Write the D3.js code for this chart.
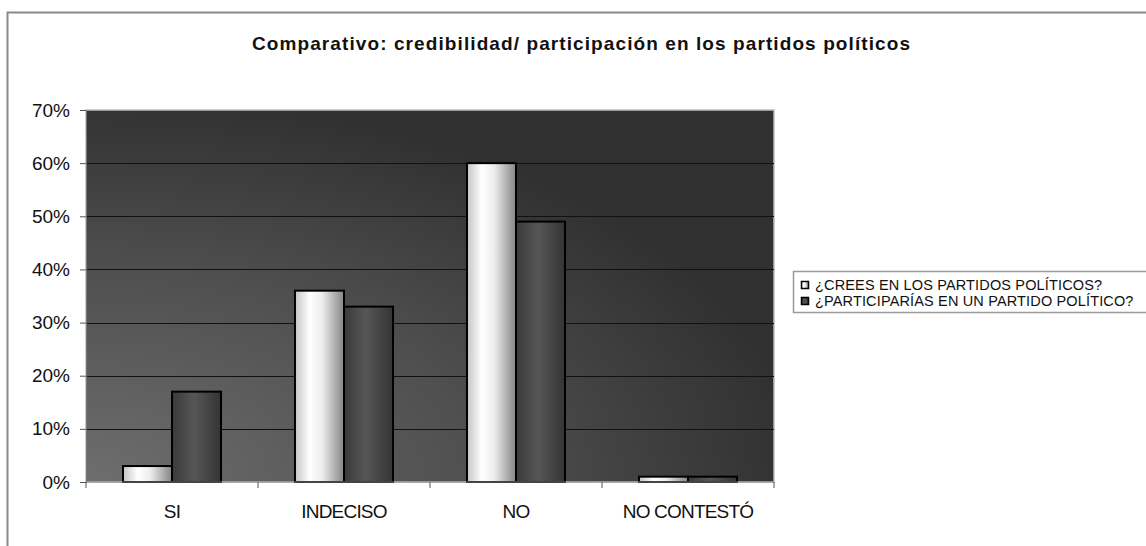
<!DOCTYPE html>
<html>
<head>
<meta charset="utf-8">
<script src="https://cdn.jsdelivr.net/npm/d3@7"></script>
<style>
  html, body { margin: 0; padding: 0; background: #fff; }
  svg { display: block; font-family: "Liberation Sans", Arial, sans-serif; }
</style>
</head>
<body>
<svg id="chart" width="1146" height="546"></svg>
<script>
// Survey answers by category
const categories = ["SI", "INDECISO", "NO", "NO CONTESTÓ"];
const seriesNames = ["¿CREES EN LOS PARTIDOS POLÍTICOS?", "¿PARTICIPARÍAS EN UN PARTIDO POLÍTICO?"];
const creesValues = [0.03, 0.36, 0.60, 0.01];
const participariasValues = [0.17, 0.33, 0.49, 0.01];
const yTicks = [0, 0.1, 0.2, 0.3, 0.4, 0.5, 0.6, 0.7];
const titleText = "Comparativo: credibilidad/ participación en los partidos políticos";

const svg = d3.select("#chart");
const W = 1146, H = 546;
const plot = { left: 86, right: 774, top: 110, bottom: 482 };

const defs = svg.append("defs");

// Plot background: light at lower left, darker toward the top and right
const bg = defs.append("radialGradient").attr("id", "bgGrad")
  .attr("cx", 0).attr("cy", 1).attr("r", 1.05).attr("fx", 0).attr("fy", 1);
bg.append("stop").attr("offset", 0).attr("stop-color", "#6e6e6e");
bg.append("stop").attr("offset", 0.55).attr("stop-color", "#4f4f4f");
bg.append("stop").attr("offset", 1).attr("stop-color", "#303030");

// Cylinder-like shading for each series
const g1 = defs.append("linearGradient").attr("id", "barLight").attr("x1", 0).attr("x2", 1).attr("y1", 0).attr("y2", 0);
[[0, "#c4c4c4"], [0.3, "#ffffff"], [0.55, "#ededed"], [1, "#858585"]].forEach(([o, c]) =>
  g1.append("stop").attr("offset", o).attr("stop-color", c));
const g2 = defs.append("linearGradient").attr("id", "barDark").attr("x1", 0).attr("x2", 1).attr("y1", 0).attr("y2", 0);
[[0, "#3a3a3a"], [0.45, "#565656"], [1, "#343434"]].forEach(([o, c]) =>
  g2.append("stop").attr("offset", o).attr("stop-color", c));
const fills = ["url(#barLight)", "url(#barDark)"];

// Outer frame
svg.append("path")
  .attr("d", `M7.5,${H} L7.5,12.5 L${W},12.5`)
  .attr("fill", "none").attr("stroke", "#8a8a8a").attr("stroke-width", 2);

// Title
svg.append("text")
  .attr("x", 581).attr("y", 50)
  .attr("text-anchor", "middle")
  .attr("font-weight", "bold").attr("font-size", 19)
  .attr("textLength", 658).attr("lengthAdjust", "spacing")
  .attr("fill", "#111")
  .text(titleText);

// Scales
const x0 = d3.scaleBand().domain(categories)
  .range([plot.left, plot.right]).paddingInner(0.43).paddingOuter(0.215);
const x1 = d3.scaleBand().domain([0, 1]).range([0, x0.bandwidth()]);
const y = d3.scaleLinear().domain([0, 0.7]).range([plot.bottom, plot.top]);

// Plot area
svg.append("rect")
  .attr("x", plot.left).attr("y", plot.top)
  .attr("width", plot.right - plot.left).attr("height", plot.bottom - plot.top)
  .attr("fill", "url(#bgGrad)").attr("stroke", "#bdbdbd").attr("stroke-width", 1.5);

// Gridlines
svg.append("g").selectAll("line")
  .data(yTicks.filter(t => t > 0 && t < 0.7))
  .join("line")
  .attr("x1", plot.left).attr("x2", plot.right)
  .attr("y1", d => Math.round(y(d)) + 0.5).attr("y2", d => Math.round(y(d)) + 0.5)
  .attr("stroke", "#111").attr("stroke-width", 1.2);

// Bars
const rows = categories.map((c, i) => ({ cat: c, vals: [creesValues[i], participariasValues[i]] }));
svg.append("g").selectAll("g")
  .data(rows).join("g")
  .attr("transform", d => `translate(${x0(d.cat)},0)`)
  .selectAll("rect")
  .data(d => d.vals.map((v, s) => ({ v, s })))
  .join("rect")
  .attr("x", d => x1(d.s))
  .attr("y", d => y(d.v))
  .attr("width", x1.bandwidth())
  .attr("height", d => y(0) - y(d.v))
  .attr("fill", d => fills[d.s])
  .attr("stroke", "#000").attr("stroke-width", 2);

// Y axis
const yAxis = svg.append("g")
  .attr("transform", `translate(${plot.left},0)`)
  .call(d3.axisLeft(y).tickValues(yTicks).tickFormat(d3.format(".0%")).tickSize(6).tickPadding(10));
yAxis.select(".domain").attr("stroke", "#777");
yAxis.selectAll(".tick line").attr("stroke", "#555");
yAxis.selectAll("text").attr("font-size", 19).attr("fill", "#111")
  .attr("font-family", "'Liberation Sans', Arial, sans-serif");

// X axis with ticks at category boundaries
const xAxisG = svg.append("g").attr("transform", `translate(0,${plot.bottom})`);
xAxisG.append("line")
  .attr("x1", plot.left).attr("x2", plot.right)
  .attr("stroke", "#888").attr("stroke-width", 1);
const step = x0.step();
xAxisG.selectAll("line.tk")
  .data(d3.range(categories.length + 1))
  .join("line").attr("class", "tk")
  .attr("x1", i => plot.left + i * step).attr("x2", i => plot.left + i * step)
  .attr("y1", 0).attr("y2", 6)
  .attr("stroke", "#555");
xAxisG.selectAll("text")
  .data(categories)
  .join("text")
  .attr("x", d => x0(d) + x0.bandwidth() / 2)
  .attr("y", 36)
  .attr("text-anchor", "middle")
  .attr("font-size", 19).attr("fill", "#111")
  .attr("letter-spacing", -0.8)
  .text(d => d);

// Legend
const lg = svg.append("g").attr("transform", "translate(793,271)");
lg.append("rect")
  .attr("x", 0.5).attr("y", 0.5).attr("width", 360).attr("height", 41)
  .attr("fill", "#fff").attr("stroke", "#9a9a9a").attr("stroke-width", 1.5);
seriesNames.forEach((name, i) => {
  const row = lg.append("g").attr("transform", `translate(0,${14 + i * 16})`);
  row.append("rect")
    .attr("x", 8.5).attr("y", -3.5).attr("width", 7).attr("height", 7)
    .attr("fill", fills[i]).attr("stroke", "#000").attr("stroke-width", 1.5);
  row.append("text")
    .attr("x", 22).attr("y", 5)
    .attr("font-size", 14.5).attr("fill", "#111")
    .attr("letter-spacing", 0.15)
    .text(name);
});
</script>
</body>
</html>
